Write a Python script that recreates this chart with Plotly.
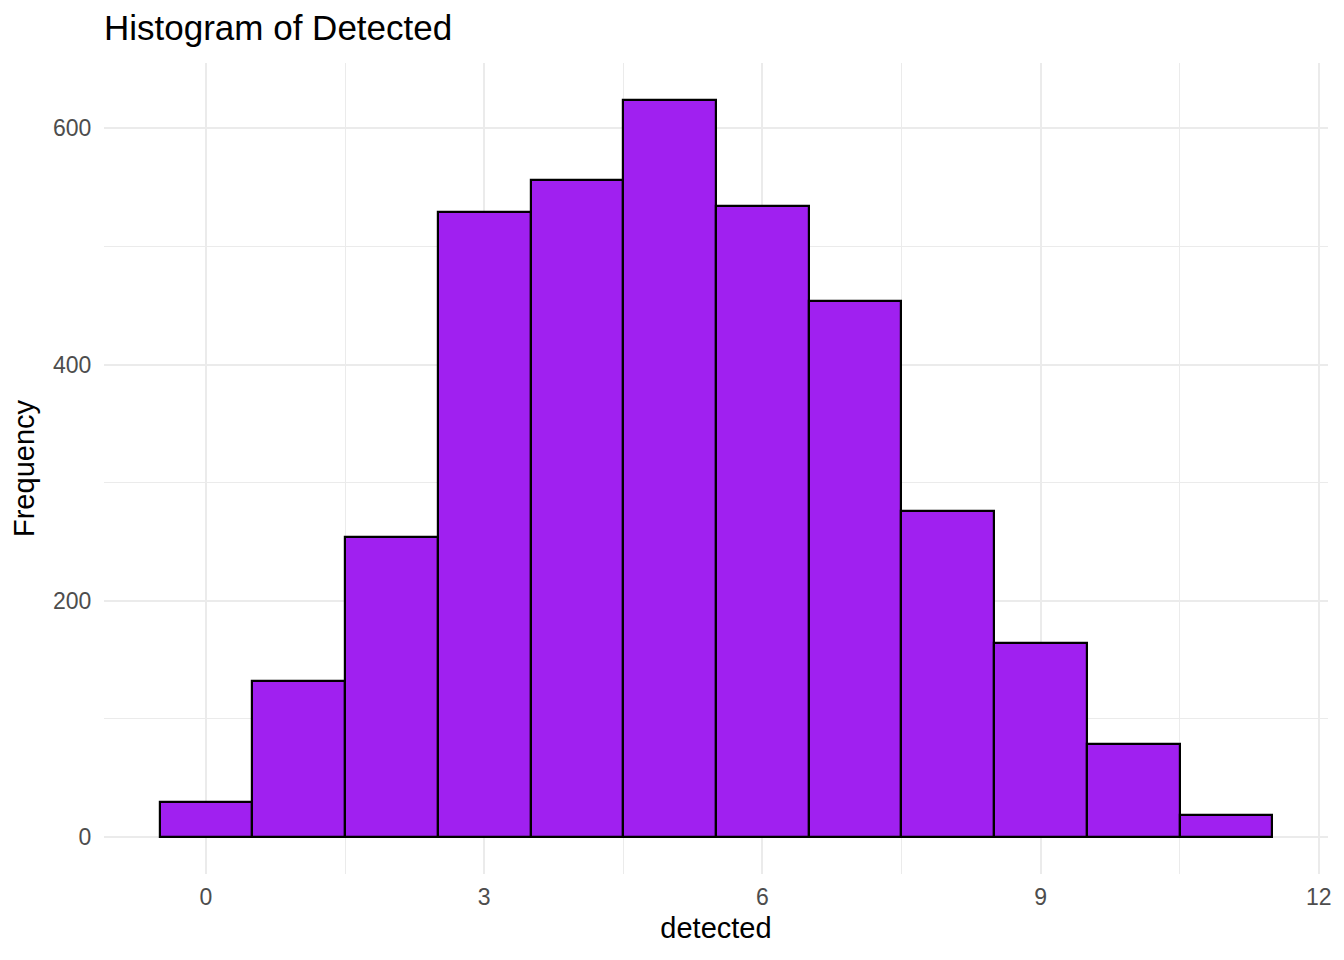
import plotly.graph_objects as go

detected = [0, 1, 2, 3, 4, 5, 6, 7, 8, 9, 10, 11]
frequency = [30, 132, 254, 529, 556, 624, 534, 454, 276, 164, 79, 19]

x_ticks = [0, 3, 6, 9, 12]
y_ticks = [0, 200, 400, 600]
x_minor = [1.5, 4.5, 7.5, 10.5]
y_minor = [100, 300, 500]

FONT = "Liberation Sans, Arial, sans-serif"

fig = go.Figure()
fig.add_trace(go.Bar(
    x=detected, y=frequency, width=1,
    marker=dict(color="#A020F0", line=dict(color="black", width=2.2)),
    showlegend=False,
))

grid = "#EBEBEB"
W, H = 1336, 952
fig.update_layout(
    width=W, height=H,
    paper_bgcolor="white", plot_bgcolor="white",
    margin=dict(l=96, r=14, t=55, b=86),
    font=dict(family=FONT, color="black"),
    title=dict(text="Histogram of Detected", x=96/W, xanchor="left", xref="container",
               y=1-20/H, yanchor="middle", yref="container",
               font=dict(size=35, color="black", family=FONT)),
    bargap=0,
)
fig.update_xaxes(
    range=[-1.1, 12.1], tickvals=x_ticks, ticktext=[str(v) for v in x_ticks],
    showgrid=True, gridcolor=grid, gridwidth=2, zeroline=False, showline=False,
    ticks="outside", ticklen=2, tickcolor="rgba(0,0,0,0)",
    tickfont=dict(size=23, color="#4D4D4D", family=FONT),
    minor=dict(tickvals=x_minor, showgrid=True, gridcolor=grid, gridwidth=1, ticks=""),
    title=dict(text="detected", font=dict(size=29, color="black", family=FONT), standoff=9),
)
fig.update_yaxes(
    range=[-31.2, 655.2], tickvals=y_ticks, ticktext=[str(v) for v in y_ticks],
    showgrid=True, gridcolor=grid, gridwidth=2, zeroline=False, showline=False,
    ticks="outside", ticklen=7, tickcolor="rgba(0,0,0,0)",
    tickfont=dict(size=23, color="#4D4D4D", family=FONT),
    minor=dict(tickvals=y_minor, showgrid=True, gridcolor=grid, gridwidth=1, ticks=""),
    title=dict(text="Frequency", font=dict(size=29, color="black", family=FONT), standoff=11),
)

fig.write_html("out.html")
